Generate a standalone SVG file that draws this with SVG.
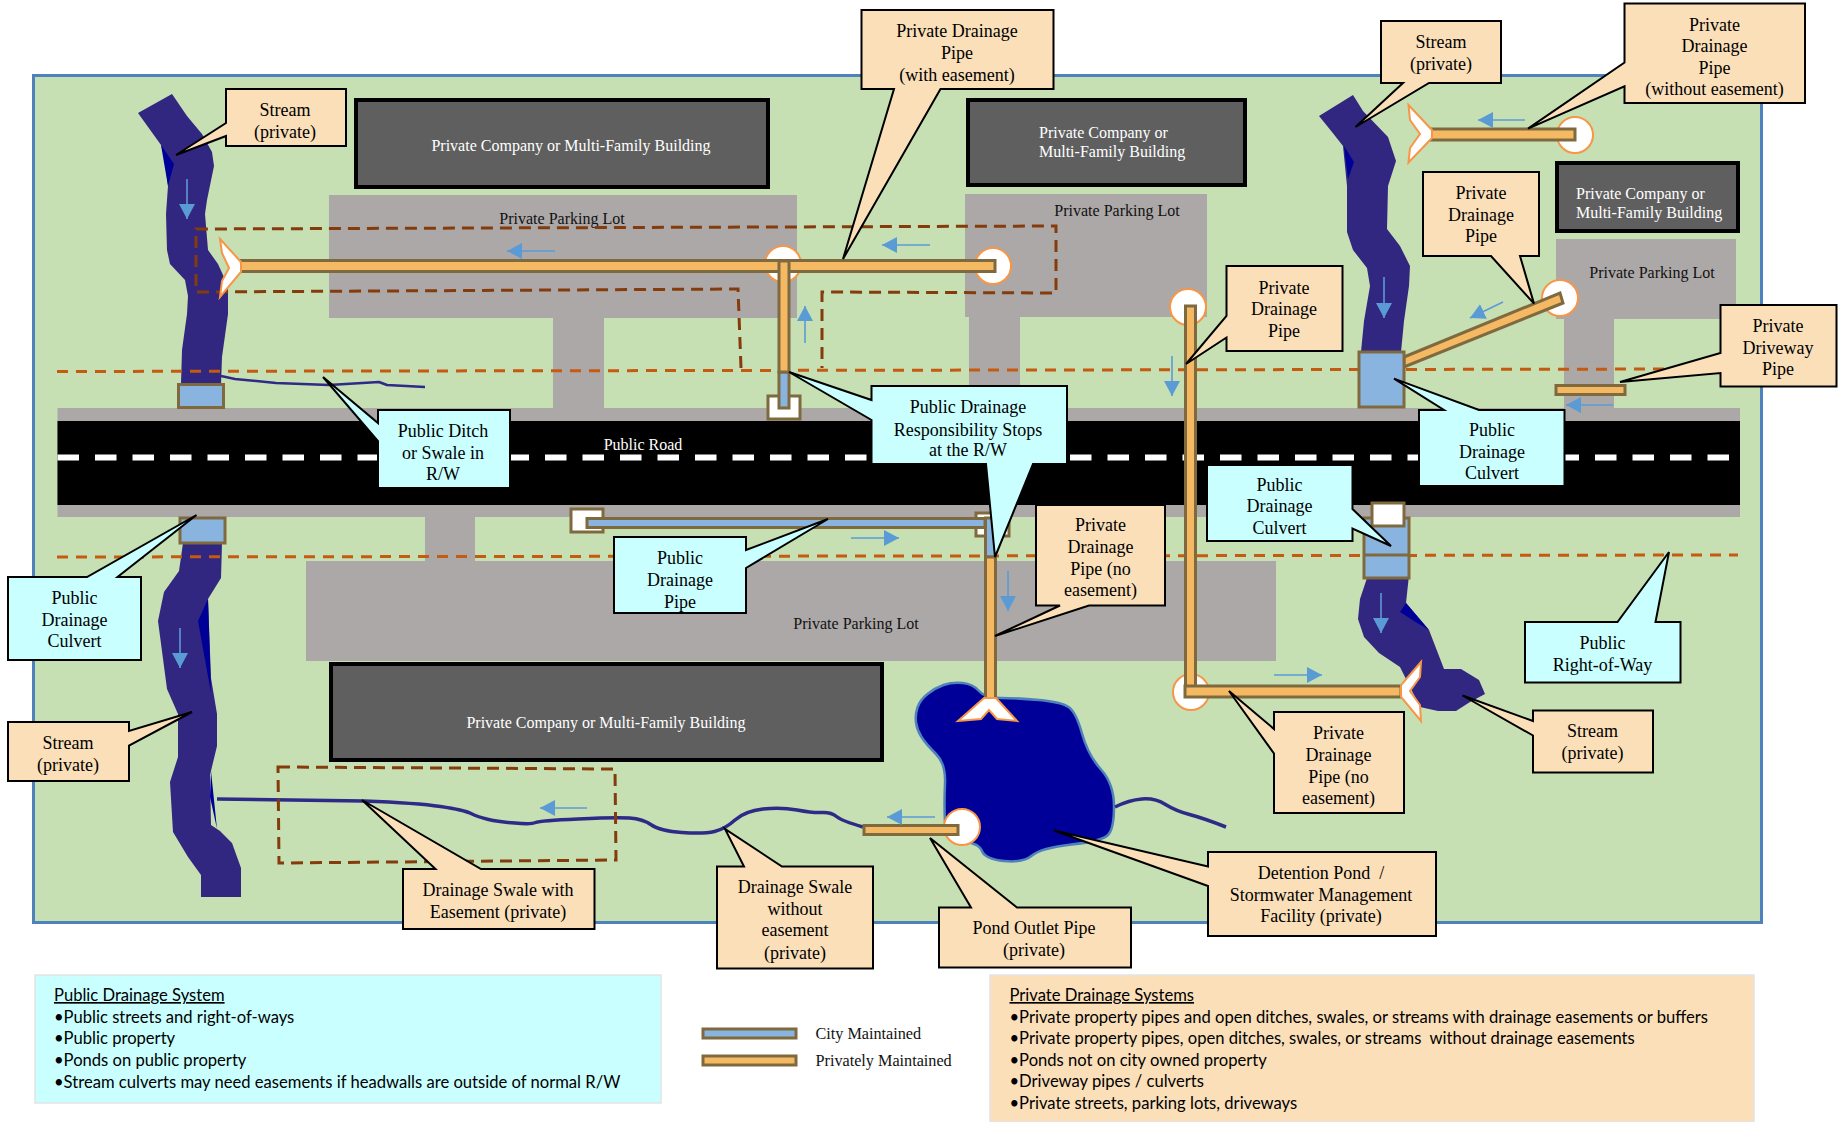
<svg xmlns="http://www.w3.org/2000/svg" width="1843" height="1122" viewBox="0 0 1843 1122">
<style>
.lot{fill:#aca8a8}
.bld{fill:#5f5f5f;stroke:#000;stroke-width:4}
.bt{font:16px "Liberation Serif",serif;fill:#fff;text-anchor:middle}
.bl{font:16px "Liberation Serif",serif;fill:#fff}
.pl{font:16px "Liberation Serif",serif;fill:#111;text-anchor:middle}
.st{fill:#312680}
.dk{fill:#000098}
.sw{fill:none;stroke:#2e2a87;stroke-linejoin:round}
.row{fill:none;stroke:#c55a11;stroke-width:3;stroke-dasharray:11 8}
.es{fill:none;stroke:#843c0c;stroke-width:3;stroke-dasharray:12 7}
.pv{fill:#f4b962;stroke:#7f6a3f;stroke-width:3}
.pb{fill:#8ab4e0;stroke:#7f6a3f;stroke-width:3}
.ew{fill:#fff;stroke:#7f6a3f;stroke-width:3}
.ch{fill:#fff;stroke:#f79646;stroke-width:2}
.ar{stroke:#5b9bd5;stroke-width:1.6;fill:none;marker-end:url(#ah)}
.tan{fill:#fadfb9;stroke:#000;stroke-width:2}
.cy{fill:#c9ffff;stroke:#000;stroke-width:2}
.t{font:18px "Liberation Serif",serif;fill:#000;text-anchor:middle}
.lg{font:16.6px Lato,"Open Sans",sans-serif;fill:#000}
.lb{font:16.2px "Liberation Serif",serif;fill:#111}
</style>
<defs>
<marker id="ah" markerUnits="userSpaceOnUse" markerWidth="16" markerHeight="16" refX="15" refY="8" orient="auto"><path d="M0 0L15 8L0 16Z" fill="#5b9bd5"/></marker>
</defs>
<rect id="site" x="33.5" y="75.5" width="1728" height="847" fill="#c6dfb3" stroke="#4f81bd" stroke-width="3"/>
<g id="parking">
<rect class="lot" x="329" y="195" width="468" height="123"/>
<rect class="lot" x="553" y="318" width="51" height="95"/>
<rect class="lot" x="965" y="194" width="242" height="123"/>
<rect class="lot" x="969" y="317" width="51" height="95"/>
<rect class="lot" x="1556" y="239" width="180" height="80"/>
<rect class="lot" x="1564" y="319" width="50" height="95"/>
<rect class="lot" x="306" y="561" width="970" height="100"/>
<rect class="lot" x="425" y="515" width="50" height="46"/>
</g>
<g id="road">
<rect class="lot" x="57.500" y="408" width="1682.500" height="109"/>
<rect x="57.500" y="421" width="1682.500" height="84" fill="#000"/>
<line x1="57.500" y1="457.500" x2="1740" y2="457.500" stroke="#fff" stroke-width="6" stroke-dasharray="21.500 16"/>
<text x="643" y="450" font-family="Liberation Serif, serif" font-size="16" fill="#fff" text-anchor="middle">Public Road</text>
</g>
<g id="buildings">
<g id="building-1"><rect class="bld" x="356" y="100" width="412" height="87"/><text class="bt" x="571" y="151">Private Company or Multi-Family Building</text></g>
<g id="building-2"><rect class="bld" x="968" y="100" width="277" height="85"/><text class="bl" x="1039" y="138">Private Company or</text><text class="bl" x="1039" y="157">Multi-Family Building</text></g>
<g id="building-3"><rect class="bld" x="1557" y="163" width="181" height="68"/><text class="bl" x="1576" y="199">Private Company or</text><text class="bl" x="1576" y="218">Multi-Family Building</text></g>
<g id="building-4"><rect class="bld" x="331" y="664" width="551" height="96"/><text class="bt" x="606" y="728">Private Company or Multi-Family Building</text></g>
<text class="pl" x="562" y="224">Private Parking Lot</text>
<text class="pl" x="1117" y="216">Private Parking Lot</text>
<text class="pl" x="1652" y="278">Private Parking Lot</text>
<text class="pl" x="856" y="629">Private Parking Lot</text>
</g>
<g id="streams">
<polygon class="st" points="138,113 172,94 187,116 202,134 212,152 214,166 207,200 205,214 208,250 218,264 228,286 228,314 222,357 221,384 181,384 182,350 187,314 188,296 185,280 170,264 167,250 166,214 168,186 164,154 161,145"/>
<polygon class="dk" points="161,145 174,164 168,186"/>
<polygon class="st" points="1319,116 1353,95 1363,111 1388,137 1396,161 1388,186 1387,229 1400,246 1410,266 1409,286 1404,321 1401,352 1361,352 1364,321 1370,286 1367,268 1353,250 1347,232 1347,186 1343,146 1332,132"/>
<polygon class="dk" points="1344,146 1354,162 1348,179"/>
<polygon class="st" points="183,543 222,543 221,578 208,599 211,678 217,714 217,746 210,775 211,825 220,831 232,843 241,868 241,897 201,897 201,875 188,857 173,832 170,782 178,757 178,714 167,689 158,621 164,592 179,571"/>
<polygon class="dk" points="208,599 198,621 211,693"/>
<polygon class="dk" points="211,771 210,797 217,829"/>
<polygon class="st" points="1368,575 1409,575 1406,603 1429,630 1444,669 1461,669 1479,680 1485,694 1470,702 1456,711 1438,711 1420,707 1400,667 1379,653 1364,637 1358,619 1360,599"/>
<polygon class="dk" points="1406,603 1429,630 1414,621 1400,612"/>
<path id="pond" d="M943.500 685Q952 682 962.500 683Q973 684 979 691Q985 698 1001 698Q1017 698 1039 700Q1061 702 1068.500 707Q1076 712 1082 733.500Q1088 755 1101 769.500Q1114 784 1114 806.500Q1114 829 1108 835Q1102 841 1071.500 844.500Q1041 848 1032 855.500Q1023 863 1004 861Q985 859 982 851Q979 843 962.500 841.500Q946 840 945 822Q944 804 945 784Q946 764 936 754Q926 744 921.500 737Q917 730 916 722.500Q915 715 917.500 707.500Q920 700 927.500 694Q935 688 943.500 685Z" fill="#000098" stroke="#4f81bd" stroke-width="2.500"/>
<polyline class="sw" stroke-width="2.500" points="221,376 235,379 276,383 329,385 379,382 387,385 425,387"/>
<path class="sw" stroke-width="3.500" d="M217 799L364 801Q417 803 440.500 806.500Q464 810 471 813.500Q478 817 488.500 819.500Q499 822 515 823Q531 824.500 535.500 822.500Q540 820.600 578 819Q616 817 629.500 818Q643 819 651.500 825Q660 831 682 832.500Q704 834 714.500 831.500Q725 829 735 820Q745 811 763 809Q781 807 797 810Q813 813 822 812.500Q831 812 836.500 816.500Q842 821 863 827"/>
<path class="sw" stroke-width="3.500" d="M1115 807Q1129 800 1142 799Q1155 798 1165.500 804.500Q1176 811 1189.500 814.500Q1203 818 1226 827"/>
</g>
<g id="boundaries">
<line class="row" x1="57" y1="371.500" x2="1690" y2="369"/>
<line class="row" x1="57" y1="557" x2="1738" y2="555"/>
<path class="es" d="M741 368L738 289L196 292V229L1056 226V293L822 292V368"/>
<path class="es" d="M278 767L615 769L616 860L279 863Z"/>
</g>
<g id="connectors">
<circle class="ch" cx="783" cy="264" r="18"/>
<circle class="ch" cx="993" cy="266" r="18"/>
<circle class="ch" cx="1575" cy="135" r="18"/>
<circle class="ch" cx="1560" cy="298" r="18"/>
<circle class="ch" cx="1188" cy="307" r="18"/>
<circle class="ch" cx="1191" cy="692" r="18"/>
<circle class="ch" cx="962" cy="827" r="18"/>
<rect class="ew" x="768" y="396" width="32" height="23"/>
<rect class="ew" x="571" y="509" width="32" height="23"/>
<rect class="ew" x="976" y="513" width="33" height="23"/>
<rect class="pv" x="240" y="260.500" width="755" height="11"/>
<rect class="pb" x="779" y="372" width="10" height="36"/>
<rect class="pv" x="779" y="261" width="10" height="111"/>
<rect class="pb" x="587" y="518.500" width="398" height="9"/>
<rect class="pb" x="985.500" y="518" width="10" height="39"/>
<rect class="pv" x="985.500" y="557" width="10" height="143"/>
<rect class="pv" x="1427" y="129" width="148" height="11"/>
<polygon class="pv" points="1404,357 1560,293 1563,303 1404,367"/>
<rect class="pv" x="1185.500" y="306" width="10" height="385"/>
<rect class="pv" x="1185" y="686" width="216" height="11"/>
<rect class="pv" x="1556" y="385.500" width="69" height="9"/>
<rect class="pv" x="864" y="825.500" width="94" height="9"/>
<polygon class="ch" points="220,239 241,262 241,272 220,297 222,281 229,268 222,253"/>
<polygon class="ch" points="1408.500,105 1432,130 1432,138 1408.500,162.500 1410,148 1420,134 1410,120"/>
<polygon class="ch" points="1421,662 1401,685 1401,697 1421,721 1420,705 1410,691 1420,677"/>
<polygon class="ch" points="984,698 996,698 1017,721 997,719 989,710 981,719 958,721"/>
<rect class="pb" x="178.500" y="384.500" width="45" height="23"/>
<rect class="pb" x="1359" y="352" width="45" height="55"/>
<rect class="pb" x="180" y="518" width="45" height="25"/>
<rect class="pb" x="1364" y="518" width="45" height="60"/>
<line x1="1363" y1="555" x2="1409" y2="555" stroke="#7f6a3f" stroke-width="3"/>
<rect class="ew" x="1372" y="503" width="32" height="23"/>
<line class="ar" x1="187" y1="179" x2="187" y2="219"/>
<line class="ar" x1="555" y1="251" x2="507" y2="251"/>
<line class="ar" x1="930" y1="245" x2="882" y2="245"/>
<line class="ar" x1="805" y1="343" x2="805" y2="306"/>
<line class="ar" x1="851" y1="538" x2="899" y2="538"/>
<line class="ar" x1="1008" y1="571" x2="1008" y2="611"/>
<line class="ar" x1="1172" y1="356" x2="1172" y2="396"/>
<line class="ar" x1="1384" y1="277" x2="1384" y2="318"/>
<line class="ar" x1="1525" y1="120" x2="1478" y2="120"/>
<line class="ar" x1="1503" y1="302" x2="1470" y2="318"/>
<line class="ar" x1="1613" y1="405" x2="1566" y2="405"/>
<line class="ar" x1="1381" y1="593" x2="1381" y2="633"/>
<line class="ar" x1="1274" y1="675" x2="1322" y2="675"/>
<line class="ar" x1="180" y1="628" x2="180" y2="668"/>
<line class="ar" x1="587" y1="808" x2="540" y2="808"/>
<line class="ar" x1="935" y1="817" x2="887" y2="817"/>
</g>
<g id="c-stream-1"><path class="tan" d="M226 89H346V146H226V136L176 155L226 123Z"/><text class="t" x="285" y="115.500">Stream</text><text class="t" x="285" y="137.500">(private)</text></g>
<g id="c-pipe-easement"><path class="tan" d="M861.500 10H1053.500V89H940.500L843 259L894 89H861.500Z"/><text class="t" x="957" y="37">Private Drainage</text><text class="t" x="957" y="59">Pipe</text><text class="t" x="957" y="81">(with easement)</text></g>
<g id="c-stream-2"><path class="tan" d="M1381 21H1501V83H1429L1355.500 127L1403 83H1381Z"/><text class="t" x="1441" y="47.500">Stream</text><text class="t" x="1441" y="70">(private)</text></g>
<g id="c-pipe-no-easement-1"><path class="tan" d="M1624.500 3.500H1805V103H1624.500V86.400L1528 128.600L1624.500 62.500Z"/><text class="t" x="1714.500" y="31">Private</text><text class="t" x="1714.500" y="52">Drainage</text><text class="t" x="1714.500" y="74">Pipe</text><text class="t" x="1714.500" y="95">(without easement)</text></g>
<g id="c-pipe-diag"><path class="tan" d="M1423 172H1539V256H1520L1534 303.600L1491 256H1423Z"/><text class="t" x="1481" y="199">Private</text><text class="t" x="1481" y="221">Drainage</text><text class="t" x="1481" y="242">Pipe</text></g>
<g id="c-pipe-mid"><path class="tan" d="M1226.500 266H1342.500V351H1226.500V337.500L1186 364L1226.500 316Z"/><text class="t" x="1284" y="294">Private</text><text class="t" x="1284" y="315">Drainage</text><text class="t" x="1284" y="337">Pipe</text></g>
<g id="c-driveway"><path class="tan" d="M1720.500 305H1836.500V386.500H1720.500V373L1620 382L1720.500 353Z"/><text class="t" x="1778" y="332">Private</text><text class="t" x="1778" y="354">Driveway</text><text class="t" x="1778" y="375">Pipe</text></g>
<g id="c-ditch"><path class="cy" d="M378 410H510V488H378V441L323 377L378 423Z"/><text class="t" x="443" y="437">Public Ditch</text><text class="t" x="443" y="459">or Swale in</text><text class="t" x="443" y="480">R/W</text></g>
<g id="c-responsibility"><path class="cy" d="M871.500 386H1067V464H1033L995 557L986 464H871.500V420L789 372L871.500 400Z"/><text class="t" x="968" y="413">Public Drainage</text><text class="t" x="968" y="436">Responsibility Stops</text><text class="t" x="968" y="456">at the R/W</text></g>
<g id="c-culvert-1"><path class="cy" d="M1419 410H1444L1394 378.600L1479 410H1564.500V486H1419Z"/><text class="t" x="1492" y="436">Public</text><text class="t" x="1492" y="458">Drainage</text><text class="t" x="1492" y="479">Culvert</text></g>
<g id="c-culvert-2"><path class="cy" d="M1207 465H1352.500V509L1391 546L1352.500 528.500V541H1207Z"/><text class="t" x="1279.500" y="490.500">Public</text><text class="t" x="1279.500" y="512">Drainage</text><text class="t" x="1279.500" y="533.500">Culvert</text></g>
<g id="c-public-pipe"><path class="cy" d="M614 537H746V550L828 519L746 568V613H614Z"/><text class="t" x="680" y="564">Public</text><text class="t" x="680" y="586">Drainage</text><text class="t" x="680" y="608">Pipe</text></g>
<g id="c-culvert-3"><path class="cy" d="M8 577H87L196.500 515L117.500 577H141V660H8Z"/><text class="t" x="74.500" y="604">Public</text><text class="t" x="74.500" y="626">Drainage</text><text class="t" x="74.500" y="647">Culvert</text></g>
<g id="c-pipe-no-easement-2"><path class="tan" d="M1036 505H1165V605.500H1089L995 636L1060 605.500H1036Z"/><text class="t" x="1100.500" y="531">Private</text><text class="t" x="1100.500" y="553">Drainage</text><text class="t" x="1100.500" y="575">Pipe (no</text><text class="t" x="1100.500" y="596">easement)</text></g>
<g id="c-stream-3"><path class="tan" d="M1533 710.500H1653V772.500H1533V735.500L1462.500 695.500L1533 721Z"/><text class="t" x="1592.500" y="737">Stream</text><text class="t" x="1592.500" y="759">(private)</text></g>
<g id="c-row"><path class="cy" d="M1525 622H1617.500L1669 552L1655.500 622H1680.500V682.500H1525Z"/><text class="t" x="1602.500" y="649">Public</text><text class="t" x="1602.500" y="671">Right-of-Way</text></g>
<g id="c-pipe-no-easement-3"><path class="tan" d="M1274 712H1404V813H1274V753.500L1229 691L1274 729Z"/><text class="t" x="1338.500" y="739">Private</text><text class="t" x="1338.500" y="761">Drainage</text><text class="t" x="1338.500" y="783">Pipe (no</text><text class="t" x="1338.500" y="804">easement)</text></g>
<g id="c-pond"><path class="tan" d="M1208 852H1436V936H1208V886L1054 830.500L1208 866.500Z"/><text class="t" x="1321" y="879" xml:space="preserve">Detention Pond  /</text><text class="t" x="1321" y="901">Stormwater Management</text><text class="t" x="1321" y="922">Facility (private)</text></g>
<g id="c-outlet"><path class="tan" d="M939 907.500H971L930 838L1017 907.500H1131V967.500H939Z"/><text class="t" x="1034" y="934">Pond Outlet Pipe</text><text class="t" x="1034" y="956">(private)</text></g>
<g id="c-swale-no"><path class="tan" d="M717 866.500H744L725 829L782 866.500H873V968.500H717Z"/><text class="t" x="795" y="893">Drainage Swale</text><text class="t" x="795" y="915">without</text><text class="t" x="795" y="936">easement</text><text class="t" x="795" y="959">(private)</text></g>
<g id="c-swale-with"><path class="tan" d="M403 869H435.500L362 800L481 869H594.500V929H403Z"/><text class="t" x="498" y="896">Drainage Swale with</text><text class="t" x="498" y="918">Easement (private)</text></g>
<g id="c-stream-4"><path class="tan" d="M8 722H129V731L192 712L129 745.500V781H8Z"/><text class="t" x="68" y="749">Stream</text><text class="t" x="68" y="771">(private)</text></g>
<g id="legend-public">
<rect x="35" y="975" width="626" height="128" fill="#c9ffff" stroke="#e4e4e4" stroke-width="1.500"/>
<text class="lg" x="54" y="1001" text-decoration="underline">Public Drainage System</text>
<text class="lg" x="54" y="1023">•Public streets and right-of-ways</text>
<text class="lg" x="54" y="1044">•Public property</text>
<text class="lg" x="54" y="1066">•Ponds on public property</text>
<text class="lg" x="54" y="1088">•Stream culverts may need easements if headwalls are outside of normal R/W</text>
</g>
<g id="legend-key">
<rect class="pb" x="703" y="1029" width="93" height="9"/>
<rect class="pv" x="703" y="1056" width="93" height="9"/>
<text class="lb" x="815.500" y="1038.500">City Maintained</text>
<text class="lb" x="815.500" y="1065.500">Privately Maintained</text>
</g>
<g id="legend-private">
<rect x="990" y="975" width="764" height="147" fill="#fadfb9" stroke="#e4e4e4" stroke-width="1.500"/>
<text class="lg" x="1009.500" y="1001" text-decoration="underline">Private Drainage Systems</text>
<text class="lg" x="1009.500" y="1023">•Private property pipes and open ditches, swales, or streams with drainage easements or buffers</text>
<text class="lg" x="1009.500" y="1044" xml:space="preserve">•Private property pipes, open ditches, swales, or streams  without drainage easements</text>
<text class="lg" x="1009.500" y="1066">•Ponds not on city owned property</text>
<text class="lg" x="1009.500" y="1087">•Driveway pipes / culverts</text>
<text class="lg" x="1009.500" y="1109">•Private streets, parking lots, driveways</text>
</g>
</svg>
